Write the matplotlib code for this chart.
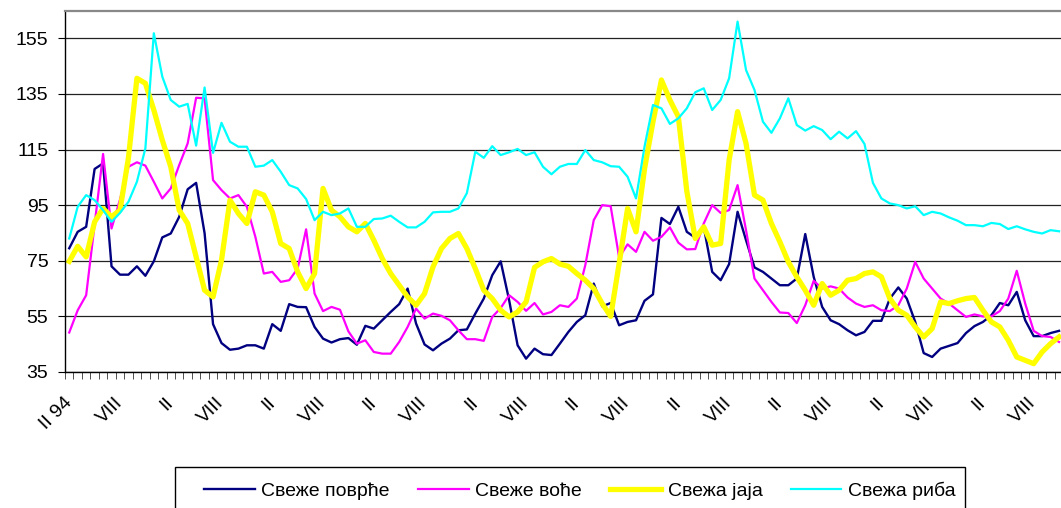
import numpy as np
import matplotlib
matplotlib.use("Agg")
import matplotlib.pyplot as plt
from matplotlib.ticker import FixedLocator
from matplotlib.patches import Rectangle

plt.rcParams['font.family'] = ['Liberation Sans', 'DejaVu Sans']

# Monthly indices, II 1994 onwards
povrce = [79.5, 85.4, 87.2, 108, 110, 73, 70, 70, 73, 69.6, 74.8, 83.4, 84.8, 90.8, 100.7, 103,
          84.9, 52.2, 45.4, 43, 43.4, 44.6, 44.6, 43.4, 52.2, 49.8, 59.4, 58.4, 58.3, 51.2, 47, 45.6,
          46.8, 47.2, 44.8, 51.6, 50.6, 53.6, 56.6, 59.4, 65, 52.4, 44.9, 42.8, 45.2, 47, 50, 50.3,
          56, 61.4, 69.8, 74.8, 60.8, 44.6, 39.8, 43.4, 41.4, 41.1, 45.2, 49.4, 53, 55.4, 66.8, 58.6,
          59.8, 51.8, 53, 53.6, 60.6, 62.9, 90.4, 88.2, 94.4, 85.4, 83.3, 87.2, 71, 68, 73.8, 92.6,
          82.4, 72.6, 71, 68.6, 66.2, 66.2, 68.6, 84.6, 69.2, 58.4, 53.6, 52.2, 50, 48.2, 49.4, 53.4,
          53.4, 61.4, 65.4, 61.4, 53, 41.8, 40.4, 43.4, 44.4, 45.4, 49, 51.5, 53, 55.4, 59.8, 59,
          63.8, 53.6, 47.9, 47.9, 49, 49.8]
voce = [49.2, 57.2, 62.6, 88, 113.4, 86.6, 97, 108.8, 110.4, 109.2, 103.4, 97.4, 101, 109.4, 117.2, 133.6,
        133.4, 104, 100.4, 97.4, 98.6, 94.4, 83.6, 70.4, 71, 67.4, 68, 72.2, 86.3, 63.2, 56.9, 58.4,
        57.4, 49.6, 45.2, 46.4, 42.2, 41.6, 41.6, 45.8, 51.2, 57.8, 54.2, 56, 55.2, 53.6, 50, 46.8,
        46.8, 46.2, 54.8, 58, 62.6, 60.2, 57, 59.8, 55.7, 56.6, 59, 58.4, 61.4, 73.4, 89.6, 95,
        94.6, 76.2, 80.9, 78.2, 85.4, 82.2, 83.6, 87, 81.5, 79.1, 79.2, 88.4, 95, 92.2, 93.2, 102.2,
        86, 68.6, 64.4, 60.2, 56.4, 56.2, 52.6, 59, 67.8, 65, 65.8, 65, 61.8, 59.6, 58.4, 59,
        57.2, 56.9, 59, 65, 74.6, 68.6, 65, 61.4, 59.6, 57.2, 54.8, 55.7, 55, 55, 56.9, 61.4,
        71.4, 59.6, 49.8, 47.9, 47.6, 45.8]
jaja = [74.8, 80.2, 76.4, 89, 93.8, 90.8, 93.2, 112, 140.6, 138.8, 129.2, 118.4, 108.8, 93.2, 88.4, 76.4,
        64.4, 62, 75.2, 96.8, 92, 88.4, 99.8, 98.6, 92.6, 81.2, 79.4, 71, 65, 70.4, 101, 93.2,
        90.8, 87.2, 85.4, 88.4, 82.4, 75.8, 70.4, 66.2, 62, 59, 63.2, 72.8, 79.4, 83, 84.8, 79.4,
        72.2, 64.4, 61.4, 57.2, 54.8, 56.6, 60.2, 72.6, 74.6, 75.8, 73.8, 73, 70.4, 68, 65, 59.6,
        55, 74, 93.8, 85.4, 108, 125, 140, 132.8, 126.8, 100, 83, 87.2, 80.6, 81.2, 111.2, 128.6,
        117.2, 98.6, 96.8, 88.4, 81.8, 74.6, 69.2, 64.4, 59, 66.8, 62.6, 64.4, 68, 68.6, 70.4, 71,
        69.2, 61.4, 57.2, 55.4, 51.2, 47.6, 50.6, 60.2, 59.6, 60.6, 61.4, 61.8, 57.2, 53, 51.2, 46.4,
        40.4, 39.2, 38, 42.2, 45.2, 47.6]
riba = [83, 94.4, 98.6, 96.8, 93.2, 89, 92.2, 96.2, 103.4, 115.4, 156.8, 141.2, 132.8, 130.4, 131.4, 116.4,
        137.3, 113.8, 124.6, 117.8, 116, 116, 108.8, 109.2, 111.2, 107, 102.2, 101, 97.2, 89.6, 92.6, 91.4,
        92, 93.8, 87.2, 87.2, 90, 90.2, 91.2, 89, 87, 87, 89, 92.4, 92.6, 92.6, 93.8, 99.3,
        114.2, 112, 116.2, 113, 114, 115.2, 113, 114, 108.8, 106.1, 108.8, 109.8, 109.8, 114.8, 111.2, 110.4,
        109, 108.8, 105.2, 97.4, 116, 131, 129.8, 124.2, 126.2, 129.8, 135.6, 137, 129.2, 132.8, 140.6, 161,
        143.6, 136.4, 125, 121, 126.2, 133.4, 123.8, 121.8, 123.4, 122, 118.7, 121.4, 119, 121.6, 117, 103,
        97.4, 95.6, 95, 93.8, 94.6, 91.4, 92.6, 92, 90.6, 89.4, 87.8, 87.8, 87.4, 88.6, 88.2, 86.4,
        87.4, 86.3, 85.4, 84.8, 86, 85.6]

series_names = ["Свеже поврће", "Свеже воће", "Свежа јаја", "Свежа риба"]
month_labels = ["II 94"] + ["VIII", "II"] * 9 + ["VIII"]

x = np.arange(len(povrce))

fig = plt.figure(figsize=(10.61, 5.08), dpi=100)
ax = fig.add_axes([65 / 1061, 136 / 508, 996 / 1061, 361 / 508])

ax.plot(x, povrce, color="#000080", lw=1.7, label=series_names[0])
ax.plot(x, voce, color="#FF00FF", lw=1.6, label=series_names[1])
ax.plot(x, jaja, color="#FFFF00", lw=3.8, label=series_names[2])
ax.plot(x, riba, color="#00FFFF", lw=1.6, label=series_names[3])

ax.set_xlim(-0.5, -0.5 + 996 / 8.46)
ax.set_ylim(35, 164.8)

# y axis with horizontal gridlines
ax.set_yticks(np.arange(35, 156, 20))
ax.yaxis.grid(True, color="#222222", lw=0.9)
ax.set_axisbelow(True)
ax.tick_params(axis="y", direction="out", length=5, labelsize=14, pad=7)

# x axis: a tick between every month, a label every six months
ax.set_xticks(np.arange(0, len(x), 6), month_labels, rotation=45, ha="right",
              va="center", rotation_mode="anchor", fontsize=14)
ax.xaxis.set_minor_locator(FixedLocator(np.arange(-0.5, len(x) + 1, 1)))
ax.tick_params(axis="x", which="major", length=0, pad=20)
ax.tick_params(axis="x", which="minor", direction="out", length=5, color="#333333")

ax.spines["right"].set_visible(False)
ax.spines["top"].set_color("#888888")
ax.spines["top"].set_linewidth(1.6)
ax.spines["left"].set_linewidth(1.0)
ax.spines["bottom"].set_linewidth(1.0)

# legend box runs off the bottom edge of the picture
fig.patches.append(Rectangle((175 / 1061, -0.1), 790 / 1061, 0.1 + 1 - 467.5 / 508,
                             transform=fig.transFigure, fill=False, edgecolor="black", lw=1.0))
leg = fig.legend(loc="center left", bbox_to_anchor=(204 / 1061, 1 - 490.5 / 508), ncol=4,
                 fontsize=14, frameon=False, borderpad=0, borderaxespad=0,
                 handlelength=2.6, handletextpad=0.35, columnspacing=1.45)

fig.savefig("out.png", dpi=100)
